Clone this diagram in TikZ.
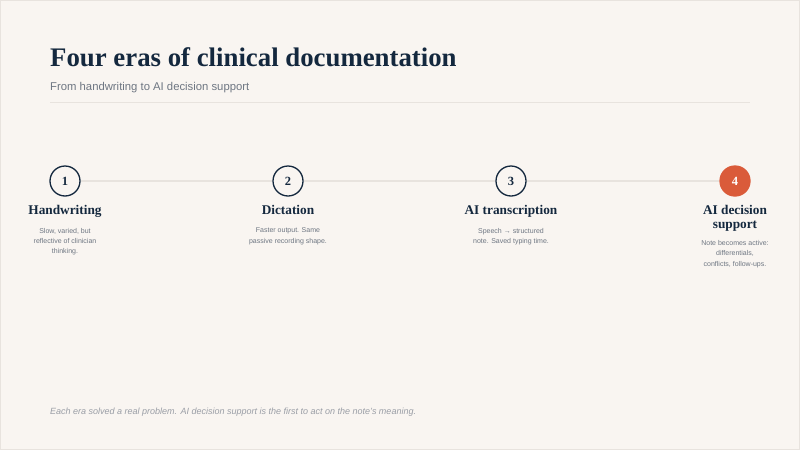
\documentclass[tikz,border=0pt]{standalone}
\usepackage{fontspec}
\setmainfont{Liberation Serif}
\setsansfont{Liberation Sans}
\definecolor{paper}{HTML}{F9F5F1}
\definecolor{ink}{HTML}{14283E}
\definecolor{muted}{HTML}{6E7682}
\definecolor{faint}{HTML}{9A9EA6}
\definecolor{rule}{HTML}{E8E3DE}
\definecolor{accent}{HTML}{DA5B3A}
\tikzset{
  stepdot/.style={circle, draw=ink, line width=1.3pt, fill=paper, minimum size=30pt, inner sep=0pt,
    font=\fontsize{12.5}{12.5}\selectfont\bfseries, text=ink},
  activedot/.style={stepdot, draw=accent, fill=accent, text=white},
  eraname/.style={font=\fontsize{13.3}{14.5}\selectfont\bfseries, text=ink, align=center, anchor=north},
  eranote/.style={font=\sffamily\fontsize{7}{10.3}\selectfont, text=muted, align=center, anchor=north}
}
\begin{document}
\begin{tikzpicture}[x=1pt,y=-1pt]
  \fill[paper] (0,0) rectangle (800,450);
  \draw[rule, line width=1pt] (0.5,0.5) rectangle (799.5,449.5);
  \useasboundingbox (0,0) rectangle (800,450);

  % heading
  \node[anchor=base west, inner sep=0pt, text=ink, font=\fontsize{26.8}{28}\selectfont\bfseries] (title) at (50,66) {Four eras of clinical documentation};
  \node[anchor=base west, inner sep=0pt, text=muted, font=\sffamily\fontsize{11.3}{12}\selectfont] (subtitle) at (50,90) {From handwriting to AI decision support};
  \draw[rule] (50,102) -- (750,102);

  % timeline
  \node[stepdot] (s1) at (65,181) {1};
  \node[stepdot] (s2) at (288,181) {2};
  \node[stepdot] (s3) at (511,181) {3};
  \node[activedot] (s4) at (735,181) {4};
  \draw[rule, line width=1.2pt] (s1) -- (s2);
  \draw[rule, line width=1.2pt] (s2) -- (s3);
  \draw[rule, line width=1.2pt] (s3) -- (s4);

  % labels
  \node[eraname] (n1) at (65,201.5) {Handwriting};
  \node[eraname] (n2) at (288,201.5) {Dictation};
  \node[eraname] (n3) at (511,201.5) {AI transcription};
  \node[eraname] (n4) at (735,201.5) {AI decision\\support};

  \node[eranote] (d1) at (65,224.5) {Slow, varied, but\\reflective of clinician\\thinking.};
  \node[eranote] (d2) at (288,224.5) {Faster output. Same\\passive recording shape.};
  \node[eranote] (d3) at (511,224.5) {Speech → structured\\note. Saved typing time.};
  \node[eranote] (d4) at (735,237) {Note becomes active:\\differentials,\\conflicts, follow-ups.};

  % footer
  \node[anchor=base west, inner sep=0pt, text=faint, font=\sffamily\itshape\fontsize{9}{10}\selectfont] (footer) at (50,414) {Each era solved a real problem. AI decision support is the first to act on the note's meaning.};
\end{tikzpicture}
\end{document}
